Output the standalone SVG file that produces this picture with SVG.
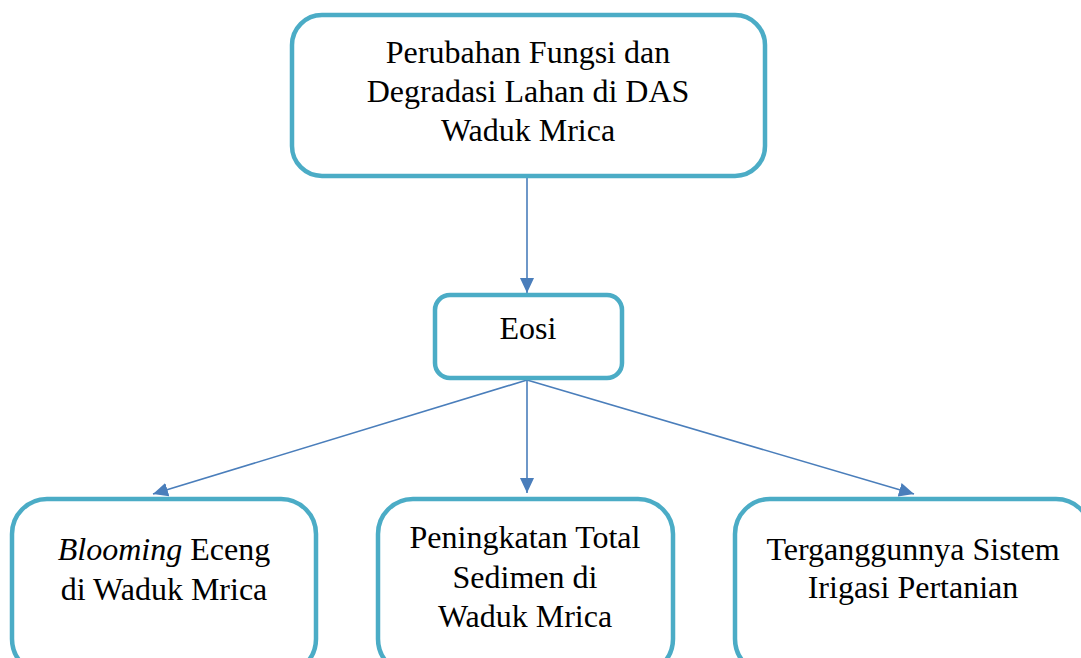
<svg xmlns="http://www.w3.org/2000/svg" width="1081" height="658" viewBox="0 0 1081 658">
<style>
.box{fill:#fff;stroke:#4BACC6;stroke-width:4.5}
.t{font-family:"Liberation Serif","Times New Roman",serif;font-size:32px;fill:#000;text-anchor:middle}
.c{stroke:#4A7EBB;stroke-width:1.6;fill:none}
</style>
<defs>
<marker id="ah" markerUnits="userSpaceOnUse" markerWidth="16" markerHeight="14" refX="15" refY="7" orient="auto">
<path d="M0,0 L15,7 L0,14 Z" fill="#4A7EBB"/>
</marker>
</defs>
<rect width="1081" height="658" fill="#fff"/>
<g id="connectors">
<line class="c" x1="527" y1="178" x2="527" y2="293" marker-end="url(#ah)"/>
<line class="c" x1="527" y1="380" x2="153" y2="494" marker-end="url(#ah)"/>
<line class="c" x1="527" y1="380" x2="527" y2="493" marker-end="url(#ah)"/>
<line class="c" x1="527" y1="380" x2="914" y2="494" marker-end="url(#ah)"/>
</g>
<g id="node-top">
<rect class="box" x="292" y="15" width="473" height="161" rx="30"/>
<text class="t" x="528" y="63">Perubahan Fungsi dan</text>
<text class="t" x="528" y="102">Degradasi Lahan di DAS</text>
<text class="t" x="528" y="141">Waduk Mrica</text>
</g>
<g id="node-eosi">
<rect class="box" x="435" y="295" width="187" height="83" rx="15"/>
<text class="t" x="528" y="339">Eosi</text>
</g>
<g id="node-blooming">
<rect class="box" x="12" y="499" width="304" height="175" rx="35"/>
<text class="t" x="164" y="560"><tspan font-style="italic">Blooming</tspan> Eceng</text>
<text class="t" x="164" y="600">di Waduk Mrica</text>
</g>
<g id="node-sedimen">
<rect class="box" x="378" y="499" width="295" height="175" rx="35"/>
<text class="t" x="525" y="548">Peningkatan Total</text>
<text class="t" x="525" y="588">Sedimen di</text>
<text class="t" x="525" y="627">Waduk Mrica</text>
</g>
<g id="node-irigasi">
<rect class="box" x="735" y="499" width="356" height="175" rx="35"/>
<text class="t" x="913" y="560">Terganggunnya Sistem</text>
<text class="t" x="913" y="598">Irigasi Pertanian</text>
</g>
</svg>
